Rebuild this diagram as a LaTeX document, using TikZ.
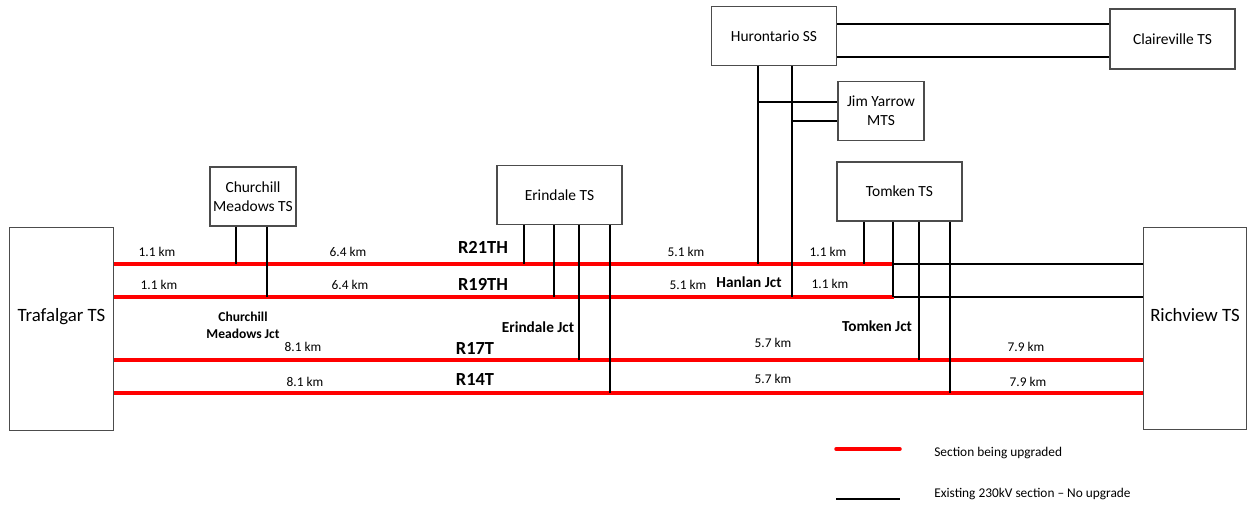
\documentclass[tikz,border=0pt]{standalone}
\usepackage{fontspec}
\setmainfont{Carlito}
\tikzset{
  stn/.style={draw=black!70, line width=0.7pt, fill=white, align=center,
    font=\fontsize{8.8}{10.6}\selectfont, minimum height=1.18cm, inner sep=1pt},
  stnw/.style={stn, minimum width=2.5cm},
  stns/.style={stn, minimum width=1.72cm},
  term/.style={draw=black!70, line width=0.7pt, minimum width=2.07cm, minimum height=4.05cm,
    font=\fontsize{10.7}{12}\selectfont, text height=7pt, text depth=15pt},
  upgr/.style={red, line width=2pt},
  exist/.style={black, line width=0.9pt},
  dist/.style={font=\fontsize{7.6}{9}\selectfont, inner sep=0pt},
  jct/.style={font=\bfseries\fontsize{8.7}{10.5}\selectfont, inner sep=0pt, align=center},
  ckt/.style={font=\bfseries\fontsize{10.5}{12}\selectfont, inner sep=0pt},
}
\begin{document}
\begin{tikzpicture}[x=0.02cm,y=-0.02cm]
\useasboundingbox (0,0) rectangle (1251,505);
% stations
\node[term] (traf) at (61.5,329) {Trafalgar TS};
\node[term] (rich) at (1195,328.5) {Richview TS};
\node[stns] (cmts) at (253,196.5) {Churchill\\Meadows TS};
\node[stnw] (erts) at (559.5,195) {Erindale TS};
\node[stnw] (hur) at (774,36) {Hurontario SS};
\node[stnw, minimum height=1.2cm] (clv) at (1172.5,39) {Claireville TS};
\node[stns] (jy) at (881,111) {Jim Yarrow\\MTS};
\node[stnw] (tom) at (899.5,191.5) {Tomken TS};
% tap points on the circuits
\foreach \n/\x/\y in {cm1/236/264, cm2/267/297, er1/524/264, er2/554/297,
    er3/579/360, er4/610/393, hu1/758/264, hu2/792/297,
    tm1/864/264, tm2/893/297, tm3/919/360, tm4/950/393}
  \coordinate (\n) at (\x,\y);
\coordinate (e21) at (894,264);
\coordinate (e19) at (894,297);
% circuits
\draw[upgr] (traf.east |- e21) -- (e21);
\draw[upgr] (traf.east |- e19) -- (e19);
\draw[upgr] (traf.east |- er3) -- (rich.west |- er3);
\draw[upgr] (traf.east |- er4) -- (rich.west |- er4);
\draw[exist] (e21) -- (rich.west |- e21);
\draw[exist] (e19) -- (rich.west |- e19);
% taps
\foreach \b/\p in {cmts/cm1, cmts/cm2, erts/er1, erts/er2, erts/er3, erts/er4,
    hur/hu1, hur/hu2, tom/tm1, tom/tm2, tom/tm3, tom/tm4}
  \draw[exist] (\b.south -| \p) -- (\p);
\coordinate (jy1) at (758,102);
\coordinate (jy2) at (792,121);
\draw[exist] (jy1) -- (jy.west |- jy1);
\draw[exist] (jy2) -- (jy.west |- jy2);
\draw[exist] (hur.east |- 0,24) -- (clv.west |- 0,24);
\draw[exist] (hur.east |- 0,57) -- (clv.west |- 0,57);
% distances
\node[dist] (d21a) at (157,252) {1.1 km};
\node[dist] (d19a) at (159,285) {1.1 km};
\node[dist] (d21b) at (348,252) {6.4 km};
\node[dist] (d19b) at (350,285) {6.4 km};
\node[dist] (d21c) at (686,252) {5.1 km};
\node[dist] (d19c) at (688,285) {5.1 km};
\node[dist] (d21d) at (828,252) {1.1 km};
\node[dist] (d19d) at (830,284) {1.1 km};
\node[dist] (d17a) at (303,347) {8.1 km};
\node[dist] (d14a) at (305,382) {8.1 km};
\node[dist] (d17b) at (773,343) {5.7 km};
\node[dist] (d14b) at (773,379) {5.7 km};
\node[dist] (d17c) at (1026,347) {7.9 km};
\node[dist] (d14c) at (1028,382) {7.9 km};
% circuit names
\node[ckt] (r21) at (483,247) {R21TH};
\node[ckt] (r19) at (483,284) {R19TH};
\node[ckt] (r17) at (475,348) {R17T};
\node[ckt] (r14) at (475,379) {R14T};
% junctions
\node[jct, font=\bfseries\fontsize{7.7}{9.6}\selectfont] (cmj) at (243,325) {Churchill\\Meadows Jct};
\node[jct] (erj) at (538,327) {Erindale Jct};
\node[jct] (hlj) at (749,282) {Hanlan Jct};
\node[jct] (tmj) at (877,326) {Tomken Jct};
% legend
\draw[upgr, line cap=round] (836,449) -- (900,449);
\draw[exist] (836,499) -- (900,499);
\node[dist, anchor=west] (lg1) at (934,453) {Section being upgraded};
\node[dist, anchor=west] (lg2) at (934,494) {Existing 230kV section -- No upgrade};
\end{tikzpicture}
\end{document}
